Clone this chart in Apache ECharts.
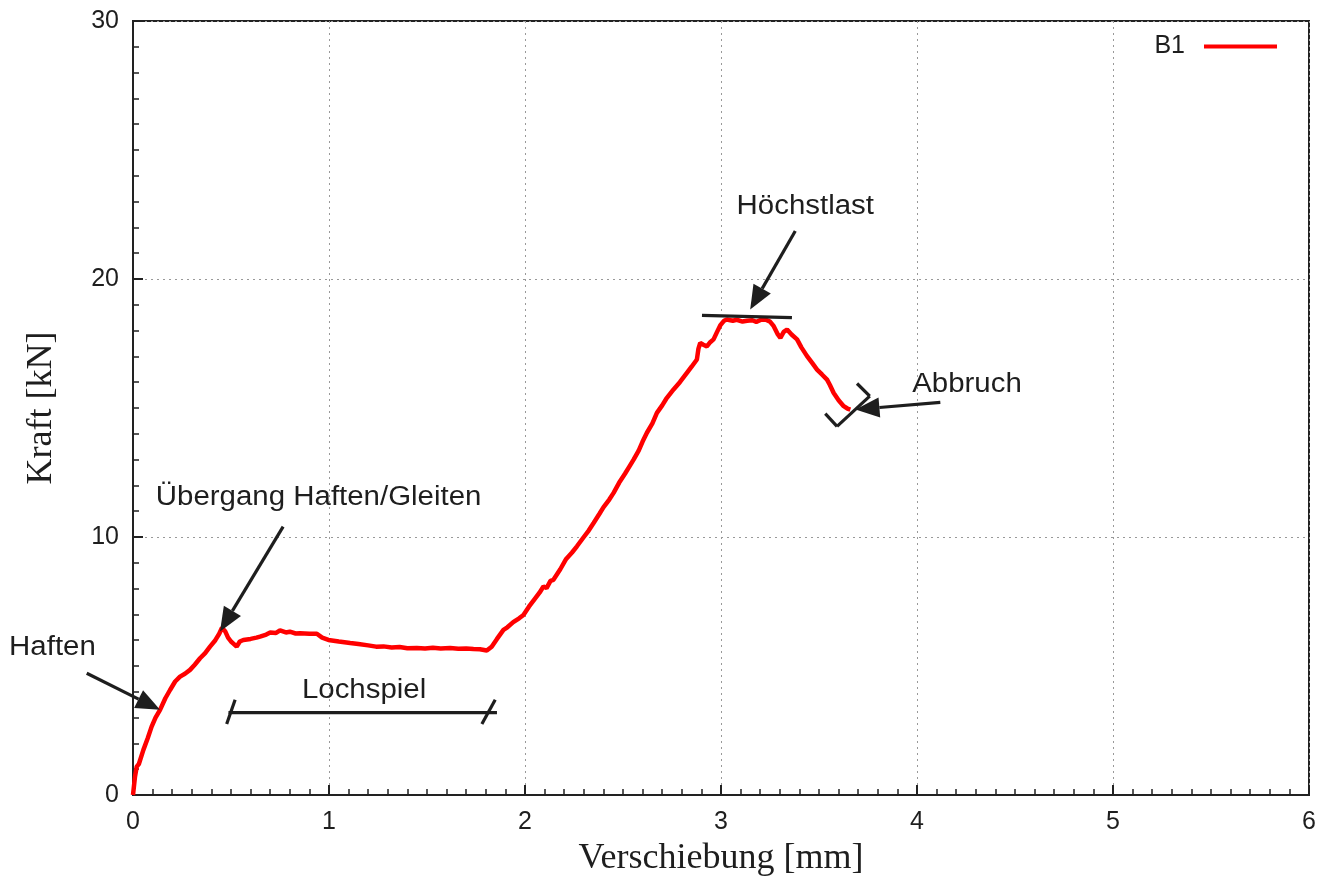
<!DOCTYPE html>
<html><head><meta charset="utf-8">
<script src="https://cdn.jsdelivr.net/npm/echarts@6/dist/echarts.min.js"></script>
<style>html,body{margin:0;padding:0;background:#fff}#c{width:1329px;height:876px}</style>
</head><body><div id="c"></div>
<script>
var seriesName = 'B1';
var xTicks = [0,1,2,3,4,5,6];
var yTicks = [0,10,20,30];
var dispX = [0,0.010,0.019,0.030,0.053,0.075,0.095,0.115,0.138,0.165,0.189,0.215,0.240,0.265,0.291,0.315,0.342,0.368,0.393,0.420,0.440,0.454,0.470,0.485,0.500,0.515,0.529,0.545,0.563,0.600,0.630,0.648,0.680,0.700,0.730,0.750,0.780,0.800,0.830,0.852,0.900,0.938,0.965,0.997,1.050,1.108,1.150,1.200,1.240,1.278,1.320,1.360,1.400,1.448,1.490,1.530,1.570,1.618,1.660,1.700,1.737,1.770,1.805,1.830,1.857,1.890,1.910,1.940,1.970,1.992,2.020,2.050,2.075,2.094,2.110,2.130,2.145,2.180,2.210,2.240,2.265,2.300,2.325,2.350,2.380,2.400,2.430,2.452,2.480,2.510,2.530,2.554,2.580,2.600,2.622,2.650,2.673,2.700,2.720,2.758,2.790,2.826,2.850,2.877,2.885,2.894,2.910,2.928,2.945,2.962,2.980,2.996,3.015,3.030,3.060,3.080,3.110,3.133,3.160,3.180,3.205,3.226,3.250,3.269,3.290,3.303,3.320,3.337,3.360,3.388,3.410,3.439,3.465,3.490,3.515,3.541,3.555,3.575,3.600,3.626,3.645,3.660];
var force = [0,0.70,1.10,1.20,1.75,2.20,2.65,3.00,3.30,3.75,4.07,4.40,4.59,4.70,4.85,5.05,5.30,5.50,5.75,6.00,6.25,6.48,6.35,6.10,5.95,5.85,5.75,5.95,6.01,6.05,6.10,6.14,6.22,6.30,6.28,6.38,6.30,6.33,6.26,6.27,6.25,6.25,6.10,6.01,5.95,5.89,5.85,5.80,5.75,5.76,5.72,5.74,5.69,5.70,5.68,5.71,5.68,5.70,5.67,5.68,5.66,5.65,5.60,5.75,6.05,6.40,6.50,6.70,6.85,6.98,7.30,7.60,7.85,8.08,8.02,8.30,8.34,8.75,9.15,9.40,9.64,10.00,10.25,10.54,10.90,11.15,11.45,11.71,12.10,12.45,12.70,13.00,13.35,13.70,14.04,14.40,14.81,15.10,15.35,15.72,16.00,16.36,16.60,16.88,17.30,17.52,17.45,17.39,17.55,17.66,17.95,18.20,18.38,18.43,18.38,18.42,18.35,18.38,18.40,18.34,18.42,18.43,18.35,18.17,17.85,17.72,17.95,18.04,17.85,17.66,17.35,17.01,16.75,16.49,16.30,16.10,15.90,15.58,15.30,15.07,14.98,14.94];

var textLabels = ['Haften','Übergang Haften/Gleiten','Lochspiel','Höchstlast','Abbruch'];
var textPos = [[-0.411,5.70],[0.947,11.52],[1.179,4.04],[3.430,22.82],[4.255,15.91]];
var arrows = [
  [[-0.236,4.72],[0.138,3.30]],
  [[0.766,10.40],[0.444,6.34]],
  [[3.379,21.86],[3.149,18.82]],
  [[4.119,15.22],[3.686,14.94]]
];
var plainLines = [
  [[0.487,3.19],[1.857,3.19]],
  [[0.478,2.75],[0.521,3.69]],
  [[1.780,2.75],[1.848,3.69]],
  [[2.903,18.59],[3.362,18.50]],
  [[3.532,14.78],[3.592,14.29]],
  [[3.592,14.29],[3.759,15.46]],
  [[3.759,15.46],[3.694,15.95]]
];

var ink = '#1e1e1e';
var sans = 'Liberation Sans, Arial, sans-serif';
var serif = 'Liberation Serif, Times New Roman, serif';

var chart = echarts.init(document.getElementById('c'));
chart.setOption({
  animation:false,
  backgroundColor:'#fff',
  grid:{left:133,right:20,top:21,bottom:81,outerBoundsMode:'none',containLabel:false,show:true,borderColor:'#222',borderWidth:2,backgroundColor:'transparent'},
  legend:{show:true,right:47,top:29,icon:'rect',itemWidth:73,itemHeight:4,align:'right',
    textStyle:{fontSize:25,color:ink,fontFamily:sans,padding:[0,14,0,0]},
    data:[{name:seriesName}]},
  xAxis:{type:'value',min:xTicks[0],max:xTicks[xTicks.length-1],interval:1,
    name:'Verschiebung [mm]',nameLocation:'middle',nameGap:46,
    nameTextStyle:{fontSize:36,color:ink,fontFamily:serif},
    axisLine:{show:true,lineStyle:{color:'#222',width:2}},
    axisTick:{show:true,inside:true,length:10,lineStyle:{color:'#222',width:2}},
    minorTick:{show:true,splitNumber:10,length:6,lineStyle:{color:'#222',width:1.5}},
    axisLabel:{fontSize:25,color:ink,margin:15,fontFamily:sans},
    splitLine:{show:true,lineStyle:{color:'#999',type:[2,4],width:1}}},
  yAxis:{type:'value',min:yTicks[0],max:yTicks[yTicks.length-1],interval:10,
    name:'Kraft [kN]',nameLocation:'middle',nameGap:73,
    nameTextStyle:{fontSize:36,color:ink,fontFamily:serif},
    axisLine:{show:true,lineStyle:{color:'#222',width:2}},
    axisTick:{show:true,inside:true,length:10,lineStyle:{color:'#222',width:2}},
    minorTick:{show:true,splitNumber:10,length:6,lineStyle:{color:'#222',width:1.5}},
    axisLabel:{fontSize:25,color:ink,margin:14,fontFamily:sans},
    splitLine:{show:true,lineStyle:{color:'#999',type:[2,4],width:1}}},
  series:[
    {name:seriesName,type:'line',showSymbol:false,symbol:'none',
      data:dispX.map(function(x,i){return [x,force[i]];}),
      lineStyle:{color:'#ff0000',width:4.5},itemStyle:{color:'#ff0000'},z:3}
  ]
});

function px(p){ return chart.convertToPixel({gridIndex:0}, p); }
var g = [];
plainLines.forEach(function(l){
  var a = px(l[0]), b = px(l[1]);
  g.push({type:'line',z:50,shape:{x1:a[0],y1:a[1],x2:b[0],y2:b[1]},style:{stroke:ink,lineWidth:3.2}});
});
arrows.forEach(function(l){
  var a = px(l[0]), b = px(l[1]);
  var dx = b[0]-a[0], dy = b[1]-a[1], len = Math.sqrt(dx*dx+dy*dy);
  var ux = dx/len, uy = dy/len, hl = 24, hw = 10;
  var bx = b[0]-ux*hl, by = b[1]-uy*hl;
  g.push({type:'line',z:50,shape:{x1:a[0],y1:a[1],x2:bx,y2:by},style:{stroke:ink,lineWidth:3.2}});
  g.push({type:'polygon',z:51,shape:{points:[[b[0],b[1]],[bx-uy*hw,by+ux*hw],[bx+uy*hw,by-ux*hw]]},style:{fill:ink}});
});
textLabels.forEach(function(t,i){
  var p = px(textPos[i]);
  g.push({type:'text',z:52,x:p[0],y:p[1],scaleX:1.09,
    style:{text:t,fill:ink,fontSize:27,fontFamily:sans,align:'center',verticalAlign:'middle'}});
});
chart.setOption({graphic:g});
</script></body></html>
